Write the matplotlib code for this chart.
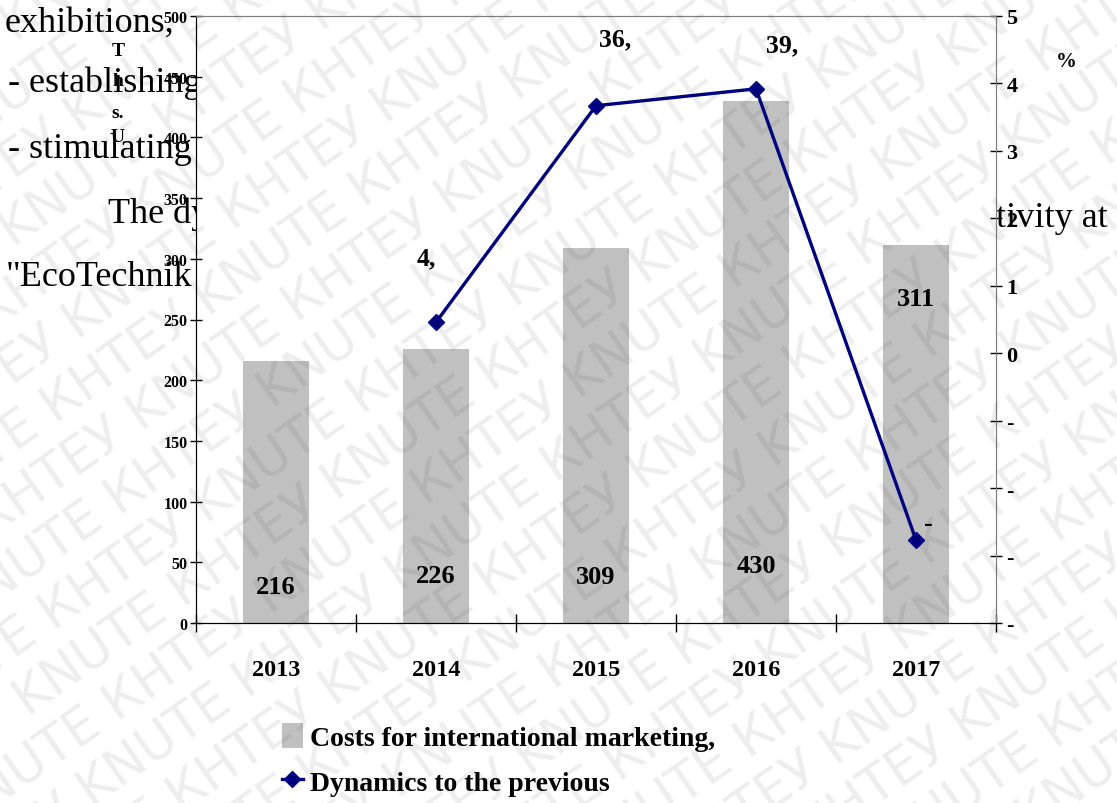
import numpy as np
import matplotlib
matplotlib.use("Agg")
import matplotlib.pyplot as plt

# yearly data
years = ["2013", "2014", "2015", "2016", "2017"]
costs = [216, 226, 309, 430, 311]              # ths. USD
dynamics = [4.6, 36.7, 39.2, -27.7]            # % to the previous year (2014-2017)
dynamics_labels = ["4,", "36,", "39,", "-"]
left_ticks = [0, 50, 100, 150, 200, 250, 300, 350, 400, 450, 500]
right_ticks = [-40, -30, -20, -10, 0, 10, 20, 30, 40, 50]
right_tick_labels = ["-", "-", "-", "-", "0", "1", "2", "3", "4", "5"]

# where the numbers sit inside the bars (left axis units)
bar_label_y = [30, 39, 38, 47, 267]
# offsets of the percent labels from their markers (points)
dyn_label_offsets = [(-7, 46), (14, 48), (19, 32), (9, 12)]

W, H = 1117, 804
fig = plt.figure(figsize=(W / 100, H / 100), dpi=100)
fig.patch.set_facecolor("white")

serif = "Liberation Serif"

# page text around the chart
page_lines = [
    (5, 32, "exhibitions,"),
    (8, 92, "- establishing"),
    (8, 158, "- stimulating"),
    (108, 223, "The dy"),
    (996, 227, "tivity at"),
    (6, 286, "\"EcoTechnik"),
]
for px, py, s in page_lines:
    fig.text(px / W, 1 - py / H, s, family=serif, fontsize=26,
             va="baseline", ha="left", zorder=-5)

ax = fig.add_axes([196 / W, 1 - 624 / H, 800 / W, 607 / H])
ax.set_facecolor("white")
x = np.arange(len(years))
bars = ax.bar(x, costs, width=0.41, color="#c0c0c0", zorder=2,
              label="Costs for international marketing,")
ax.set_xlim(-0.5, len(years) - 0.5)
ax.set_ylim(0, 500)
ax.set_yticks(left_ticks)
ax.set_yticklabels([str(t) for t in left_ticks], family=serif,
                   fontweight="bold", fontsize=11.5)
ax.tick_params(axis="y", direction="inout", length=8, width=1, pad=2)
ax.set_xticks(x)
ax.set_xticklabels(years, family=serif, fontweight="bold", fontsize=17.5)
ax.tick_params(axis="x", length=0, pad=26)
ax.set_xticks(np.arange(-0.5, len(years)), minor=True)
ax.tick_params(axis="x", which="minor", direction="inout", length=13, width=1)

for sp in ["left", "bottom"]:
    ax.spines[sp].set_color("black")
for sp in ["top", "right"]:
    ax.spines[sp].set_color("#808080")

for i, v in enumerate(costs):
    ax.text(i, bar_label_y[i], str(v), ha="center", va="center",
            family=serif, fontweight="bold", fontsize=19, zorder=3)

ax2 = ax.twinx()
line, = ax2.plot(x[1:], dynamics, color="#000080", lw=2.4, marker="D",
                 markersize=8, zorder=4, label="Dynamics to the previous")
ax2.set_ylim(-40, 50)
ax2.set_yticks(right_ticks)
ax2.set_yticklabels(right_tick_labels, family=serif, fontweight="bold",
                    fontsize=16)
ax2.tick_params(axis="y", direction="inout", length=9, width=1, pad=3)
ax2.spines["right"].set_color("#808080")
ax2.spines["top"].set_color("#808080")

for xi, v, lab, off in zip(x[1:], dynamics, dynamics_labels, dyn_label_offsets):
    ax2.annotate(lab, (xi, v), xytext=off, textcoords="offset points",
                 ha="center", va="center", family=serif, fontweight="bold",
                 fontsize=18.5)

# stacked axis titles
for s, py in [("T", 52), ("h", 82), ("s.", 113), ("U", 137)]:
    fig.text(118 / W, 1 - py / H, s, ha="center", va="center",
             family=serif, fontweight="bold", fontsize=14)
fig.text(1066 / W, 1 - 62 / H, "%", ha="center", va="center",
         family=serif, fontweight="bold", fontsize=15)

fig.legend(handles=[bars, line], loc="upper left",
           bbox_to_anchor=(282 / W, 1 - 724 / H), frameon=False,
           prop={"family": serif, "weight": "bold", "size": 20},
           handlelength=0.75, handleheight=1.0, handletextpad=0.25,
           labelspacing=0.62, borderpad=0, borderaxespad=0)

# diagonal watermark over the page
deg = 35
ang = np.deg2rad(deg)
along = np.array([np.cos(ang), np.sin(ang)])
perp = np.array([-np.sin(ang), np.cos(ang)])
mark = "KNUTE КНТЕУ " * 12
for k in range(-12, 20):
    p = k * 56 * perp - 800 * along + (k % 2) * 120 * along
    fig.text(p[0] / W, p[1] / H, mark, rotation=deg, rotation_mode="anchor",
             family="DejaVu Sans", fontsize=37,
             color="#1b1b1b", alpha=0.075, ha="left", va="baseline",
             zorder=20)

fig.savefig("out.png", dpi=100)
